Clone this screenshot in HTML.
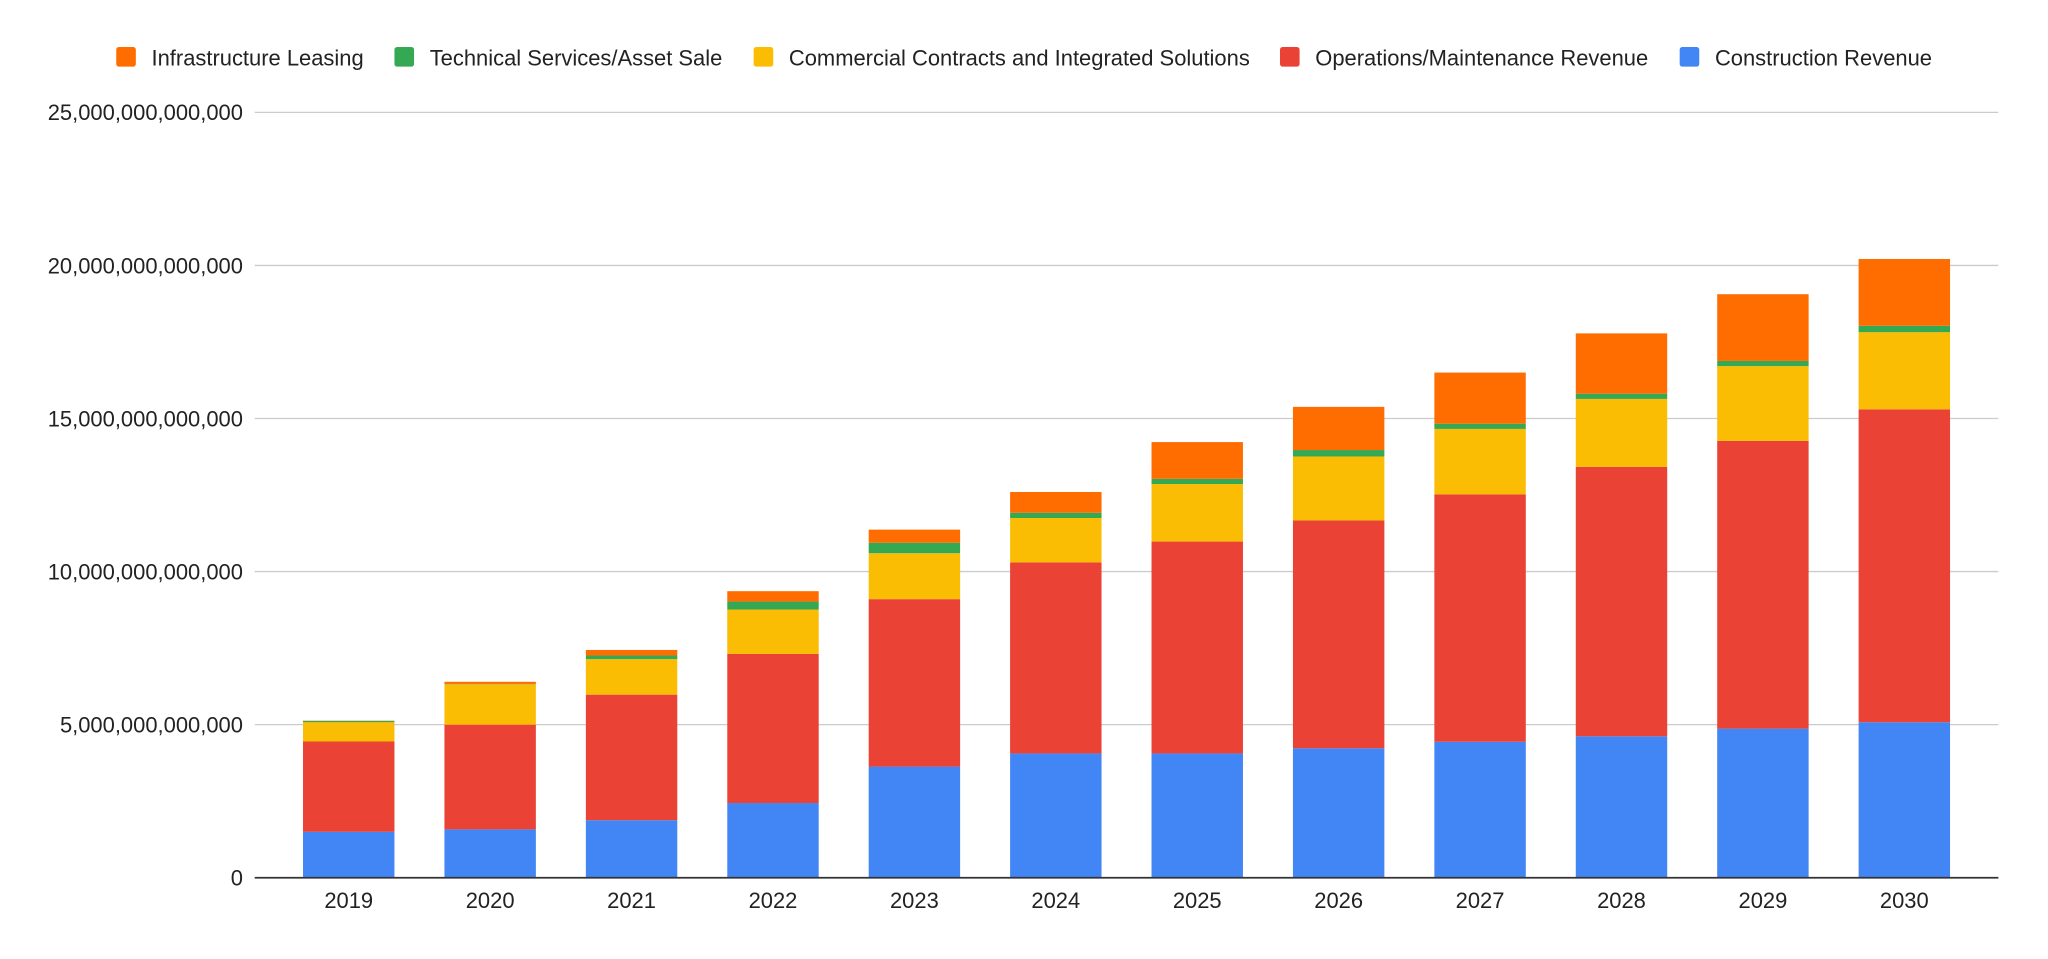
<!DOCTYPE html>
<html><head><meta charset="utf-8"><style>
html,body{margin:0;padding:0;background:#fff;}
svg{display:block;font-family:"Liberation Sans",Arial,sans-serif;}
</style></head><body>
<svg id="chart" width="2048" height="959" viewBox="0 0 1568 734.2" xmlns="http://www.w3.org/2000/svg">
<rect width="1568" height="734.2" fill="#fff"/>
<g id="legend"></g>
<g id="grid"></g>
<g id="bars"></g>
<g id="axes"></g>
</svg>
<script>
const categories = ["2019","2020","2021","2022","2023","2024","2025","2026","2027","2028","2029","2030"];
const construction = [1.5,1.58,1.88,2.44,3.63,4.06,4.06,4.23,4.44,4.62,4.87,5.08];
const operations = [2.95,3.42,4.10,4.87,5.47,6.24,6.92,7.44,8.08,8.80,9.40,10.22];
const commercial = [0.63,1.32,1.16,1.45,1.50,1.45,1.88,2.09,2.14,2.22,2.44,2.52];
const technical = [0.04,0.01,0.12,0.26,0.34,0.17,0.17,0.21,0.17,0.17,0.17,0.21];
const leasing = [0.01,0.07,0.18,0.34,0.43,0.68,1.20,1.41,1.67,1.97,2.18,2.18];
const yTicks = [0,5,10,15,20,25];
const yTickLabels = ["0","5,000,000,000,000","10,000,000,000,000","15,000,000,000,000","20,000,000,000,000","25,000,000,000,000"];
const seriesNames = ["Infrastructure Leasing","Technical Services/Asset Sale","Commercial Contracts and Integrated Solutions","Operations/Maintenance Revenue","Construction Revenue"];

const NS="http://www.w3.org/2000/svg";
const X0=195,X1=1530,Y0=672,Y1=86,YMAX=25;
const y=v=>Y0-(v/YMAX)*(Y0-Y1);
const FIRST=267,LAST=1458;
const xc=i=>FIRST+(LAST-FIRST)/(categories.length-1)*i;
const BW=70;
const FS=16.8;
function mk(tag,attrs,parent){const e=document.createElementNS(NS,tag);for(const k in attrs)e.setAttribute(k,attrs[k]);parent.appendChild(e);return e;}
const grid=document.getElementById('grid'),bars=document.getElementById('bars'),axes=document.getElementById('axes'),legend=document.getElementById('legend');
yTicks.forEach((t,i)=>{
  if(t>0){const l=mk('line',{x1:X0,x2:X1,y1:y(t),y2:y(t),stroke:'#cccccc','stroke-width':1},grid);
  
  }
  const tx=mk('text',{x:186,y:y(t)+6,'text-anchor':'end','font-size':FS,fill:'#222'},axes);
  tx.textContent=yTickLabels[i];
  
  
});
const series=[
 {vals:construction,color:'#4285f4',key:'construction'},
 {vals:operations,color:'#ea4335',key:'operations'},
 {vals:commercial,color:'#fbbc04',key:'commercial'},
 {vals:technical,color:'#34a853',key:'technical'},
 {vals:leasing,color:'#ff6d01',key:'leasing'}];
categories.forEach((c,i)=>{
  let base=0;
  series.forEach(s=>{
    const v=s.vals[i];
    const r=mk('rect',{x:xc(i)-BW/2,y:y(base+v),width:BW,height:Math.max(0,y(base)-y(base+v)),fill:s.color},bars);
    
    
    base+=v;
  });
  const t=mk('text',{x:xc(i),y:695,'text-anchor':'middle','font-size':FS,fill:'#222'},axes);
  t.textContent=c;
  
  
});
const ax=mk('line',{x1:X0,x2:X1,y1:Y0,y2:Y0,stroke:'#333','stroke-width':1.3},axes);


const legColors=['#ff6d01','#34a853','#fbbc04','#ea4335','#4285f4'];
const legX=[89,302,577,980,1286];
seriesNames.forEach((n,i)=>{
  const g=mk('g',{},legend);
  
  
  mk('rect',{x:legX[i],y:36,width:15,height:15,rx:2,fill:legColors[i]},g);
  const t=mk('text',{x:legX[i]+27,y:50,'font-size':FS,fill:'#222'},g);
  t.textContent=n;
});
</script>
</body></html>
